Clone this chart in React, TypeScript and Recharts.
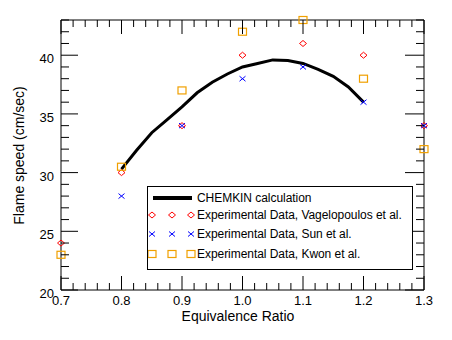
import { ComposedChart, XAxis, YAxis, Scatter } from 'recharts';

// equivalence ratio for the experimental sets
const expPhi = [0.7, 0.8, 0.9, 1.0, 1.1, 1.2, 1.3];
const vagelopoulos = [24, 30, 34, 40, 41, 40, 34];
const kwon = [23, 30.5, 37, 42, 43, 38, 32];
const sunPhi = [0.8, 0.9, 1.0, 1.1, 1.2, 1.3];
const sun = [28, 34, 38, 39, 36, 34];

// CHEMKIN calculation
const chemkinPhi = [0.8, 0.825, 0.85, 0.875, 0.9, 0.925, 0.95, 0.975, 1.0, 1.025, 1.05, 1.075, 1.1, 1.125, 1.15, 1.175, 1.2];
const chemkin = [30.3, 31.9, 33.4, 34.5, 35.6, 36.8, 37.7, 38.4, 39.0, 39.3, 39.6, 39.55, 39.3, 38.8, 38.2, 37.3, 36.0];

const xMajor = [0.7, 0.8, 0.9, 1.0, 1.1, 1.2, 1.3];
const xTicks = [
  0.7, 0.72, 0.74, 0.76, 0.78, 0.8, 0.82, 0.84, 0.86, 0.88, 0.9, 0.92, 0.94, 0.96, 0.98, 1.0,
  1.02, 1.04, 1.06, 1.08, 1.1, 1.12, 1.14, 1.16, 1.18, 1.2, 1.22, 1.24, 1.26, 1.28, 1.3,
];
const yMajor = [20, 25, 30, 35, 40];
const yTicks = [20, 21, 22, 23, 24, 25, 26, 27, 28, 29, 30, 31, 32, 33, 34, 35, 36, 37, 38, 39, 40, 41, 42, 43];

const toPoints = (xs: number[], ys: number[]) => xs.map((x, i) => ({ x, y: ys[i] }));

const RED = '#ff0000';
const BLUE = '#0000ff';
const ORANGE = '#f0a000';
const FONT = '"Liberation Sans", Arial, sans-serif';

const isMajor = (v: number, majors: number[]) => majors.some((m) => Math.abs(m - v) < 1e-6);

function Diamond({ cx, cy }: any) {
  return <path d={`M${cx - 3.5},${cy} L${cx},${cy - 3} L${cx + 3.5},${cy} L${cx},${cy + 3} Z`} fill="none" stroke={RED} strokeWidth={1} />;
}
function Cross({ cx, cy }: any) {
  return (
    <path d={`M${cx - 3},${cy - 2.5} L${cx + 3},${cy + 2.5} M${cx - 3},${cy + 2.5} L${cx + 3},${cy - 2.5}`} stroke={BLUE} strokeWidth={1} />
  );
}
function Square({ cx, cy }: any) {
  return <rect x={cx - 4} y={cy - 3.5} width={8} height={7} fill="none" stroke={ORANGE} strokeWidth={1.2} />;
}

const BottomTick = ({ x, y, payload }: any) => {
  const major = isMajor(payload.value, xMajor);
  return (
    <g>
      <line x1={x} x2={x} y1={y} y2={y - (major ? 14 : 7)} stroke="#000" />
      {major && (
        <text x={x} y={y + 15} textAnchor="middle" fontSize={13} fontFamily={FONT} fill="#000">
          {payload.value.toFixed(1)}
        </text>
      )}
    </g>
  );
};
const TopTick = ({ x, y, payload }: any) => {
  const major = isMajor(payload.value, xMajor);
  return <line x1={x} x2={x} y1={y} y2={y + (major ? 14 : 7)} stroke="#000" />;
};
const LeftTick = ({ x, y, payload }: any) => {
  const major = isMajor(payload.value, yMajor);
  return (
    <g>
      <line x1={x} x2={x + (major ? 17 : 8)} y1={y} y2={y} stroke="#000" />
      {major && (
        <text x={x - 7} y={y + 8} textAnchor="end" fontSize={13} fontFamily={FONT} fill="#000">
          {payload.value}
        </text>
      )}
    </g>
  );
};
const RightTick = ({ x, y, payload }: any) => {
  const major = isMajor(payload.value, yMajor);
  return <line x1={x} x2={x - (major ? 19 : 8)} y1={y} y2={y} stroke="#000" />;
};

const XTitle = () => (
  <text x={230} y={313} textAnchor="middle" fontSize={14} fontFamily={FONT} fill="#000">
    Equivalence Ratio
  </text>
);
const YTitle = () => (
  <text transform="translate(15.5,147.5) rotate(-90)" textAnchor="middle" fontSize={14} fontFamily={FONT} fill="#000">
    Flame speed (cm/sec)
  </text>
);

function LegendBox() {
  const rowStyle: any = { position: 'absolute', left: 0, height: 18, display: 'flex', alignItems: 'center' };
  const text: any = { position: 'absolute', left: 49, fontSize: 12, letterSpacing: -0.05, whiteSpace: 'nowrap' };
  const marks = (M: any) => (
    <svg width={48} height={18} style={{ position: 'absolute', left: 0, top: 0 }}>
      <M cx={4} cy={9} />
      <M cx={24} cy={9} />
      <M cx={43} cy={9} />
    </svg>
  );
  return (
    <div
      style={{
        position: 'absolute', left: 139, top: 178, width: 264, height: 82,
        border: '1px solid #000', background: '#fff', fontFamily: FONT, color: '#000',
      }}
    >
      <div style={{ ...rowStyle, top: 2, width: '100%' }}>
        <svg width={48} height={18} style={{ position: 'absolute', left: 0, top: 0 }}>
          <line x1={5} x2={44} y1={9} y2={9} stroke="#000" strokeWidth={4} />
        </svg>
        <span style={text}>CHEMKIN calculation</span>
      </div>
      <div style={{ ...rowStyle, top: 19, width: '100%' }}>
        {marks(Diamond)}
        <span style={text}>Experimental Data, Vagelopoulos et al.</span>
      </div>
      <div style={{ ...rowStyle, top: 38, width: '100%' }}>
        {marks(Cross)}
        <span style={text}>Experimental Data, Sun et al.</span>
      </div>
      <div style={{ ...rowStyle, top: 58, width: '100%' }}>
        {marks(Square)}
        <span style={text}>Experimental Data, Kwon et al.</span>
      </div>
    </div>
  );
}

export default function App() {
  return (
    <div style={{ position: 'relative', width: 444, height: 332, fontFamily: FONT }}>
      <ComposedChart width={444} height={332} margin={{ top: 11, right: 27, bottom: 20, left: 0 }}>
        <XAxis
          dataKey="x" type="number" domain={[0.7, 1.3]} ticks={xTicks} interval={0}
          height={30} tickSize={0} tickMargin={0} tickLine={false}
          axisLine={{ stroke: '#000' }} tick={<BottomTick />} label={<XTitle />}
        />
        <XAxis
          xAxisId="top" orientation="top" dataKey="x" type="number" domain={[0.7, 1.3]} ticks={xTicks}
          interval={0} height={1} tickSize={0} tickMargin={0} tickLine={false}
          axisLine={{ stroke: '#000' }} tick={<TopTick />}
        />
        <YAxis
          dataKey="y" type="number" domain={[20, 43]} ticks={yTicks} interval={0}
          width={53} tickSize={0} tickMargin={0} tickLine={false} axisLine={{ stroke: '#000' }} tick={<LeftTick />}
          label={<YTitle />}
        />
        <YAxis
          yAxisId="right" orientation="right" dataKey="y" type="number" domain={[20, 43]} ticks={yTicks}
          interval={0} width={1} tickSize={0} tickMargin={0} tickLine={false}
          axisLine={{ stroke: '#000' }} tick={<RightTick />}
        />
        <Scatter
          xAxisId="top" yAxisId="right"
          data={toPoints(chemkinPhi, chemkin)} line={{ stroke: '#000', strokeWidth: 3 }}
          shape={() => <g />} isAnimationActive={false}
        />
        <Scatter data={toPoints(expPhi, vagelopoulos)} shape={<Diamond />} isAnimationActive={false} />
        <Scatter data={toPoints(sunPhi, sun)} shape={<Cross />} isAnimationActive={false} />
        <Scatter data={toPoints(expPhi, kwon)} shape={<Square />} isAnimationActive={false} />
      </ComposedChart>
      <LegendBox />
    </div>
  );
}
